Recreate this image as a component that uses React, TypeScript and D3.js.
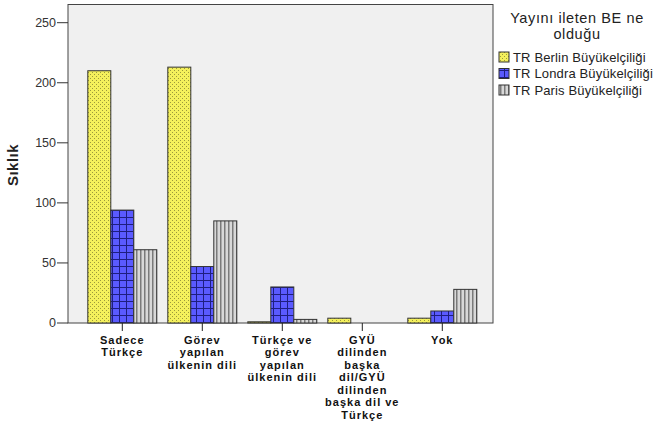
import React, { useEffect, useRef } from 'react';
import * as d3 from 'd3';

const categories = ['Sadece Türkçe', 'Görev yapılan ülkenin dili', 'Türkçe ve görev yapılan ülkenin dili', 'GYÜ dilinden başka dil/GYÜ dilinden başka dil ve Türkçe', 'Yok'];
const categoryLines = [
  ['Sadece', 'Türkçe'],
  ['Görev', 'yapılan', 'ülkenin dili'],
  ['Türkçe ve', 'görev', 'yapılan', 'ülkenin dili'],
  ['GYÜ', 'dilinden', 'başka', 'dil/GYÜ', 'dilinden', 'başka dil ve', 'Türkçe'],
  ['Yok'],
];
const seriesNames = ['TR Berlin Büyükelçiliği', 'TR Londra Büyükelçiliği', 'TR Paris Büyükelçiliği'];
const berlin = [210, 213, 1, 4, 4];
const londra = [94, 47, 30, 0, 10];
const paris = [61, 85, 3, 0, 28];
const yTicks = [0, 50, 100, 150, 200, 250];

const patternIds = ['pat-berlin', 'pat-londra', 'pat-paris'];

export default function App() {
  const svgRef = useRef<SVGSVGElement>(null);

  useEffect(() => {
    if (!svgRef.current) return;
    const svg = d3.select(svgRef.current);
    svg.selectAll('*').remove();

    const font = '"Liberation Sans", Arial, sans-serif';
    const frame = { left: 68, top: 4.5, right: 493, bottom: 323 };

    // Patterns
    const defs = svg.append('defs');
    const pb = defs.append('pattern').attr('id', patternIds[0]).attr('patternUnits', 'userSpaceOnUse')
      .attr('width', 4).attr('height', 4);
    pb.append('rect').attr('width', 4).attr('height', 4).attr('fill', '#f4f05c');
    pb.append('rect').attr('x', 0).attr('y', 0).attr('width', 1).attr('height', 1).attr('fill', '#9c9a3a');
    pb.append('rect').attr('x', 2).attr('y', 2).attr('width', 1).attr('height', 1).attr('fill', '#9c9a3a');

    const pl = defs.append('pattern').attr('id', patternIds[1]).attr('patternUnits', 'userSpaceOnUse')
      .attr('width', 7).attr('height', 7);
    pl.append('rect').attr('width', 7).attr('height', 7).attr('fill', '#5a5aff');
    pl.append('rect').attr('x', 0).attr('y', 0).attr('width', 1).attr('height', 7).attr('fill', '#1e1e80');
    pl.append('rect').attr('x', 0).attr('y', 0).attr('width', 7).attr('height', 1).attr('fill', '#1e1e80');

    const pp = defs.append('pattern').attr('id', patternIds[2]).attr('patternUnits', 'userSpaceOnUse')
      .attr('width', 4).attr('height', 4);
    pp.append('rect').attr('width', 4).attr('height', 4).attr('fill', '#d8d8d8');
    pp.append('rect').attr('x', 0).attr('y', 0).attr('width', 1.5).attr('height', 4).attr('fill', '#7a7a7a');

    // Plot frame
    svg.append('rect')
      .attr('x', frame.left).attr('y', frame.top)
      .attr('width', frame.right - frame.left).attr('height', frame.bottom - frame.top)
      .attr('fill', '#f0f0f0').attr('stroke', '#444').attr('stroke-width', 1);

    const y = d3.scaleLinear().domain([0, 250]).range([323, 22.7]);
    const x0 = d3.scaleBand<string>().domain(categories).range([82.3, 482.3]);
    const x1 = d3.scaleBand<number>().domain([0, 1, 2]).range([0, 69]);
    const groupOffset = (x0.bandwidth() - 69) / 2;

    const series = [berlin, londra, paris];

    // Bars
    series.forEach((vals, si) => {
      svg.append('g').selectAll('rect')
        .data(vals)
        .join('rect')
        .attr('x', (_, i) => (x0(categories[i]) as number) + groupOffset + (x1(si) as number))
        .attr('y', d => y(d))
        .attr('width', x1.bandwidth())
        .attr('height', d => y(0) - y(d))
        .attr('fill', d => (d > 0 ? `url(#${patternIds[si]})` : 'none'))
        .attr('stroke', d => (d > 0 ? '#333' : 'none'))
        .attr('stroke-width', 1);
    });

    // Y axis
    const yAxis = svg.append('g');
    yAxis.selectAll('line.tick')
      .data(yTicks)
      .join('line')
      .attr('class', 'tick')
      .attr('x1', 57).attr('x2', frame.left)
      .attr('y1', d => y(d)).attr('y2', d => y(d))
      .attr('stroke', '#333');
    yAxis.selectAll('text')
      .data(yTicks)
      .join('text')
      .attr('x', 56).attr('y', d => y(d))
      .attr('dy', '0.35em')
      .attr('text-anchor', 'end')
      .attr('font-family', font).attr('font-size', 12.5)
      .attr('fill', '#333')
      .text(d => d);

    svg.append('text')
      .attr('transform', 'translate(18,165) rotate(-90)')
      .attr('text-anchor', 'middle')
      .attr('font-family', font).attr('font-size', 15).attr('font-weight', 'bold')
      .attr('letter-spacing', 0.5)
      .attr('fill', '#222')
      .text('Sıklık');

    // X axis ticks and labels
    const xAxis = svg.append('g');
    categories.forEach((c, i) => {
      const cx = (x0(c) as number) + x0.bandwidth() / 2;
      xAxis.append('line')
        .attr('x1', cx).attr('x2', cx)
        .attr('y1', frame.bottom).attr('y2', 331)
        .attr('stroke', '#222');
      const t = xAxis.append('text')
        .attr('text-anchor', 'middle')
        .attr('font-family', font).attr('font-size', 11).attr('font-weight', 'bold')
        .attr('letter-spacing', 1)
        .attr('fill', '#111');
      categoryLines[i].forEach((line, li) => {
        t.append('tspan').attr('x', cx).attr('y', 343.5 + li * 12.5).text(line);
      });
    });

    // Legend
    const legend = svg.append('g');
    legend.append('text')
      .attr('text-anchor', 'middle')
      .attr('font-family', font).attr('font-size', 14.5)
      .attr('letter-spacing', 0.6)
      .attr('fill', '#222')
      .selectAll('tspan')
      .data(['Yayını ileten BE ne', 'olduğu'])
      .join('tspan')
      .attr('x', 577).attr('y', (_, i) => 23 + i * 16)
      .text(d => d);

    seriesNames.forEach((name, i) => {
      const cy = 57 + i * 16.5;
      legend.append('rect')
        .attr('x', 499).attr('y', cy - 5).attr('width', 10).attr('height', 10)
        .attr('fill', `url(#${patternIds[i]})`)
        .attr('stroke', '#333');
      legend.append('text')
        .attr('x', 513).attr('y', cy).attr('dy', '0.35em')
        .attr('font-family', font).attr('font-size', 13)
        .attr('letter-spacing', 0.15)
        .attr('fill', '#222')
        .text(name);
    });
  }, []);

  return (
    <svg ref={svgRef} width={654} height={423} style={{ position: 'absolute', left: 0, top: 0, background: '#fff' }} />
  );
}
